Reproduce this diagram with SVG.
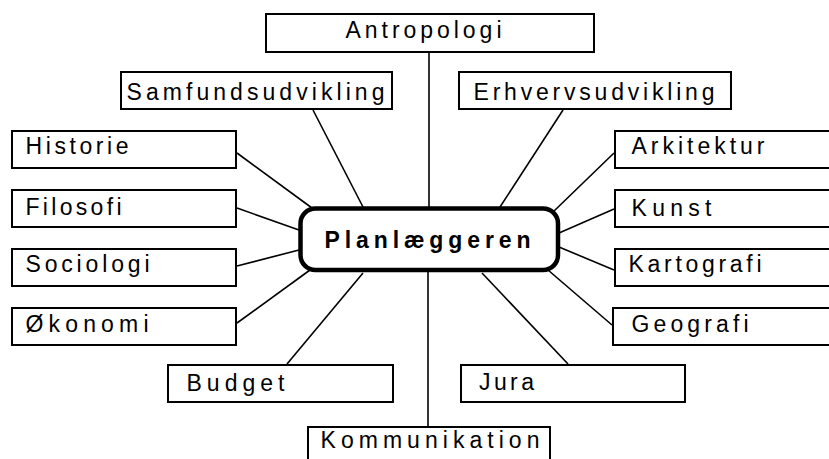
<svg xmlns="http://www.w3.org/2000/svg" width="829" height="459" viewBox="0 0 829 459">
<style>
.box{fill:#fff;stroke:#000;stroke-width:2}
.lbl{font-family:"Liberation Sans",Arial,sans-serif;font-size:23px;fill:#000}
.ctr{font-family:"Liberation Sans",Arial,sans-serif;font-size:23px;font-weight:bold;fill:#000}
.con{stroke:#000;stroke-width:1.6;fill:none}
</style>
<rect width="829" height="459" fill="#fff"/>
<g id="connectors">
<line class="con" x1="429" y1="53" x2="429" y2="207"/>
<line class="con" x1="428" y1="271" x2="428" y2="426"/>
<line class="con" x1="313" y1="110" x2="363" y2="207"/>
<line class="con" x1="237" y1="153" x2="312" y2="208"/>
<line class="con" x1="237" y1="208" x2="299" y2="230"/>
<line class="con" x1="237" y1="266" x2="299" y2="250"/>
<line class="con" x1="237" y1="323" x2="310" y2="270"/>
<line class="con" x1="287" y1="364" x2="363" y2="273"/>
<line class="con" x1="568" y1="364" x2="482" y2="273"/>
<line class="con" x1="612" y1="325" x2="548" y2="270"/>
<line class="con" x1="614" y1="270" x2="559" y2="247"/>
<line class="con" x1="614" y1="209" x2="559" y2="233"/>
<line class="con" x1="614" y1="153" x2="553" y2="212"/>
<line class="con" x1="563" y1="110" x2="500" y2="207"/>
</g>
<g id="n-antropologi"><rect class="box" x="266" y="14" width="328" height="38"/><text class="lbl" x="345.5" y="38" textLength="156" lengthAdjust="spacing">Antropologi</text></g>
<g id="n-samfundsudvikling"><rect class="box" x="121" y="72" width="271" height="37"/><text class="lbl" x="126.5" y="100" textLength="258" lengthAdjust="spacing">Samfundsudvikling</text></g>
<g id="n-erhvervsudvikling"><rect class="box" x="459" y="72" width="272" height="37"/><text class="lbl" x="473.5" y="100" textLength="241" lengthAdjust="spacing">Erhvervsudvikling</text></g>
<g id="n-historie"><rect class="box" x="12" y="131" width="224" height="37"/><text class="lbl" x="25.5" y="154" textLength="103" lengthAdjust="spacing">Historie</text></g>
<g id="n-filosofi"><rect class="box" x="12" y="190" width="224" height="37"/><text class="lbl" x="25.5" y="215" textLength="96" lengthAdjust="spacing">Filosofi</text></g>
<g id="n-sociologi"><rect class="box" x="12" y="249" width="224" height="37"/><text class="lbl" x="25.5" y="272" textLength="124" lengthAdjust="spacing">Sociologi</text></g>
<g id="n-okonomi"><rect class="box" x="12" y="308" width="224" height="37"/><text class="lbl" x="25.5" y="332" textLength="123" lengthAdjust="spacing">Økonomi</text></g>
<g id="n-budget"><rect class="box" x="168" y="365" width="225" height="37"/><text class="lbl" x="186.5" y="391" textLength="98" lengthAdjust="spacing">Budget</text></g>
<g id="n-jura"><rect class="box" x="461" y="365" width="224" height="37"/><text class="lbl" x="479" y="390" textLength="55" lengthAdjust="spacing">Jura</text></g>
<g id="n-kommunikation"><rect class="box" x="308" y="427" width="242" height="40"/><text class="lbl" x="320.5" y="448" textLength="219" lengthAdjust="spacing">Kommunikation</text></g>
<g id="n-arkitektur"><rect class="box" x="615" y="131" width="230" height="37"/><text class="lbl" x="631.5" y="154" textLength="133" lengthAdjust="spacing">Arkitektur</text></g>
<g id="n-kunst"><rect class="box" x="615" y="190" width="230" height="37"/><text class="lbl" x="631.5" y="216" textLength="80" lengthAdjust="spacing">Kunst</text></g>
<g id="n-kartografi"><rect class="box" x="615" y="249" width="230" height="37"/><text class="lbl" x="628.5" y="272" textLength="133" lengthAdjust="spacing">Kartografi</text></g>
<g id="n-geografi"><rect class="box" x="613" y="308" width="230" height="37"/><text class="lbl" x="631.5" y="332" textLength="117" lengthAdjust="spacing">Geografi</text></g>
<g id="n-planlaeggeren"><rect x="300.5" y="208.5" width="257.5" height="61.5" rx="15" ry="15" fill="#fff" stroke="#000" stroke-width="4.5"/><text class="ctr" x="324.5" y="248" textLength="206" lengthAdjust="spacing">Planlæggeren</text></g>
</svg>
